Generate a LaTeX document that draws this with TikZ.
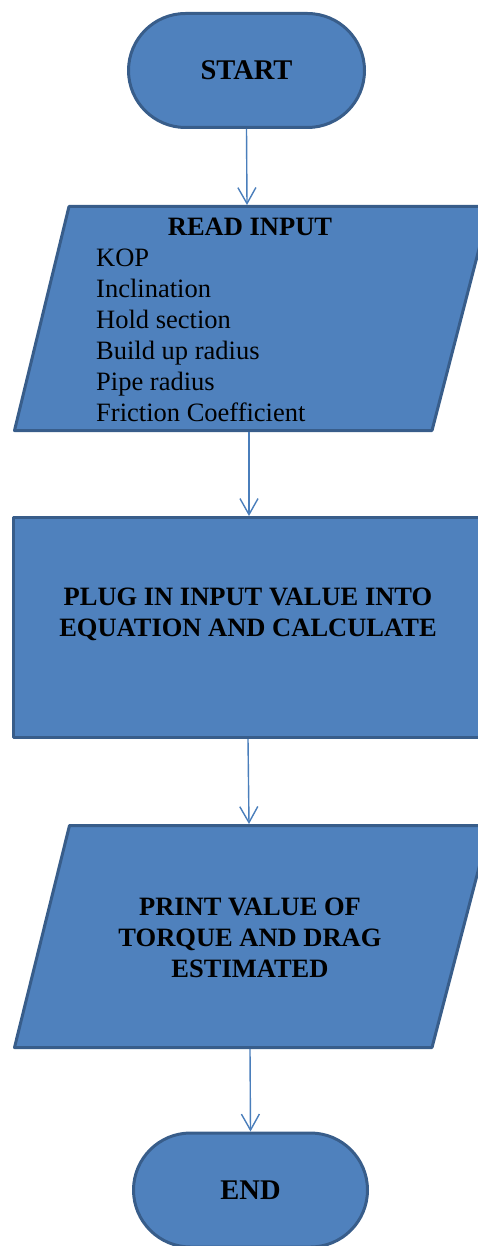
\documentclass[tikz,border=0pt]{standalone}
\usepackage{fontspec}
\setmainfont{Liberation Serif}
\usetikzlibrary{arrows.meta,shapes.misc}
\definecolor{boxfill}{HTML}{4F81BD}
\definecolor{boxline}{HTML}{385D8A}
\definecolor{arrowcol}{HTML}{4A7EBB}
\begin{document}
\begin{tikzpicture}[x=1pt,y=-1pt,
  term/.style={rounded rectangle, fill=boxfill, draw=boxline, line width=3pt,
    minimum width=236pt, minimum height=114pt, inner sep=0pt,
    font=\fontsize{28.5}{34}\selectfont\bfseries},
  shapebox/.style={fill=boxfill, draw=boxline, line width=3pt, line join=round},
  flow/.style={draw=arrowcol, line width=1.4pt, -{Straight Barb[length=16pt,width=18pt]}},
  bodytxt/.style={font=\fontsize{26.5}{31}\selectfont, inner sep=0pt},
  headtxt/.style={font=\fontsize{26.5}{31}\selectfont\bfseries, inner sep=0pt}]
\useasboundingbox (0,0) rectangle (478,1246);

% START
\node[term] (start) at (246.5,70.5) {START};

% READ INPUT parallelogram
\draw[shapebox] (69,206.5) -- (490,206.5) -- (432,430.5) -- (14.5,430.5) -- cycle;
\coordinate (readtop) at (247,205);
\coordinate (readbot) at (249,432);
\node[headtxt] (readtitle) at (250,227) {READ INPUT};
\node[bodytxt, align=left, anchor=west] (readlist) at (96,335.5)
  {KOP\\Inclination\\Hold section\\Build up radius\\Pipe radius\\Friction Coefficient};

% PLUG rectangle
\node[shapebox, minimum width=469pt, minimum height=220pt, inner sep=0pt] (plug) at (248,627.5) {};
\node[headtxt, align=center] (plugtxt) at (248,614.5)
  {PLUG IN INPUT VALUE INTO\\EQUATION AND CALCULATE};

% PRINT parallelogram
\draw[shapebox] (69.5,825.5) -- (490,825.5) -- (432,1047.5) -- (14.5,1047.5) -- cycle;
\coordinate (printtop) at (249,824);
\coordinate (printbot) at (250,1049);
\node[headtxt, align=center] (printtxt) at (250,938)
  {PRINT VALUE OF\\TORQUE AND DRAG\\ESTIMATED};

% END
\node[term, minimum width=234pt] (end) at (250.5,1190) {END};

% connectors
\draw[flow] (start.south) -- (readtop);
\draw[flow] (readbot) -- (plug.north -| readbot);
\draw[flow] (plug.south) -- (printtop);
\draw[flow] (printbot) -- (end.north);
\end{tikzpicture}
\end{document}
